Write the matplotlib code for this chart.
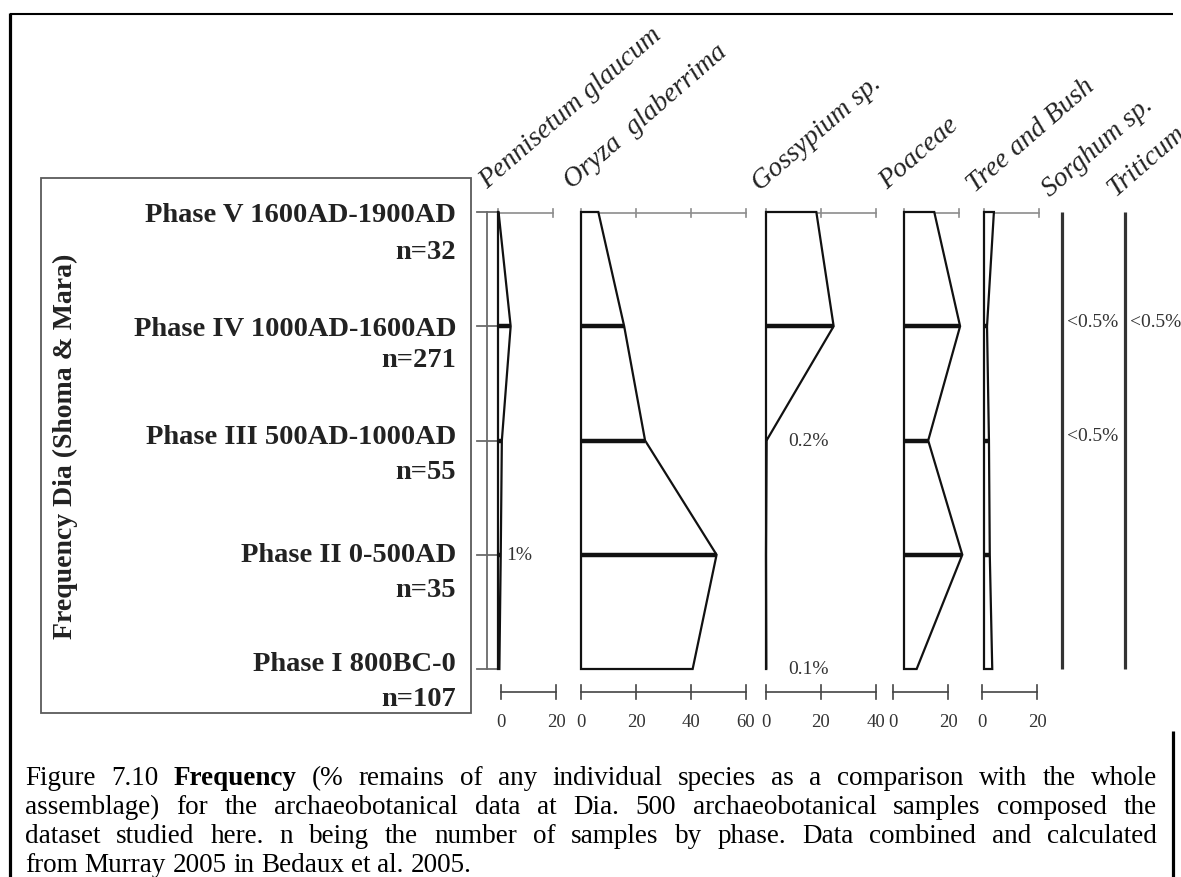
import matplotlib
matplotlib.use("Agg")
import matplotlib.pyplot as plt
import matplotlib.transforms as mtransforms
from matplotlib.patches import Polygon, Rectangle

# ---------------------------------------------------------------- data
phases = ["Phase V 1600AD-1900AD", "Phase IV 1000AD-1600AD",
          "Phase III 500AD-1000AD", "Phase II 0-500AD", "Phase I 800BC-0"]
sample_counts = [32, 271, 55, 35, 107]

taxa = ["Pennisetum glaucum", "Oryza  glaberrima", "Gossypium sp.",
        "Poaceae", "Tree and Bush", "Sorghum sp.", "Triticum"]

# frequency (% of assemblage), phases ordered V -> I
pennisetum = [0.2, 4.6, 1.4, 1.0, 0.5]
oryza = [6.3, 15.7, 23.3, 49.3, 40.6]
gossypium = [18.3, 24.6, 0.2, 0.0, 0.1]
poaceae = [11.0, 20.4, 8.8, 21.2, 4.6]
tree_bush = [3.6, 1.1, 1.8, 2.1, 3.0]

scale_max = [20, 60, 40, 20, 20]
scale_ticks = [[0, 20], [0, 20, 40, 60], [0, 20, 40], [0, 20], [0, 20]]

# trace taxa: phases where "<0.5%" is recorded
sorghum_trace = [1, 2]
triticum_trace = [1]
trace_text = "<0.5%"

caption_lines = [
    [("Figure", 0), ("7.10", 0), ("Frequency", 1), ("(%", 0), ("remains", 0), ("of", 0),
     ("any", 0), ("individual", 0), ("species", 0), ("as", 0), ("a", 0), ("comparison", 0),
     ("with", 0), ("the", 0), ("whole", 0)],
    [("assemblage)", 0), ("for", 0), ("the", 0), ("archaeobotanical", 0), ("data", 0),
     ("at", 0), ("Dia.", 0), ("500", 0), ("archaeobotanical", 0), ("samples", 0),
     ("composed", 0), ("the", 0)],
    [("dataset", 0), ("studied", 0), ("here.", 0), ("n", 0), ("being", 0), ("the", 0),
     ("number", 0), ("of", 0), ("samples", 0), ("by", 0), ("phase.", 0), ("Data", 0),
     ("combined", 0), ("and", 0), ("calculated", 0)],
    [("from", 0), ("Murray", 0), ("2005", 0), ("in", 0), ("Bedaux", 0), ("et", 0),
     ("al.", 0), ("2005.", 0)],
]

# ---------------------------------------------------------------- layout
W_PX, H_PX, DPI = 1181, 878, 100
SERIF = ["Liberation Serif", "DejaVu Serif"]
PX_PER_PCT = 2.75
Y_TOP, Y_BOT = 213, 670
panel_x0 = [498, 581, 766, 904, 984]
bottom_shift = [3, 0, 0, -11, -2]
trace_x0 = [1062, 1125]
header_anchor = [(487, 189), (572, 189), (760, 191), (887, 190),
                 (975, 193), (1050, 197), (1115, 197)]
phase_label_y = [213, 327, 435, 553, 662]
count_label_y = [250, 358, 470, 588, 697]

fig = plt.figure(figsize=(W_PX / DPI, H_PX / DPI), dpi=DPI)
fig.patch.set_facecolor("white")

# background axes in pixel units (y downwards)
bg = fig.add_axes([0, 0, 1, 1])
bg.set_xlim(0, W_PX)
bg.set_ylim(H_PX, 0)
bg.axis("off")

# page frame
bg.plot([10, 1173], [15, 15], color="black", lw=1.5, solid_capstyle="butt")
bg.plot([10, 10], [14, H_PX], color="black", lw=2.3, solid_capstyle="butt")
bg.plot([1173, 1173], [732, H_PX], color="black", lw=2.3, solid_capstyle="butt")

# phase label box
bg.add_patch(Rectangle((41, 179), 430, 535, fill=False, ec="#5a5a5a", lw=1.3))
bg.text(65, 446, "Frequency Dia (Shoma & Mara)", rotation=90, ha="center",
        va="center", fontsize=20, fontweight="bold", family=SERIF, color="#222")
for lab, n, yp, yn in zip(phases, sample_counts, phase_label_y, count_label_y):
    bg.text(456, yp + 9, lab, ha="right", va="baseline", fontsize=20.5,
            fontweight="bold", family=SERIF, color="#222")
    bg.text(456, yn + 9, f"n={n}", ha="right", va="baseline", fontsize=20.5,
            fontweight="bold", family=SERIF, color="#222")


def panel_axes(x0, span):
    ax = fig.add_axes([x0 / W_PX, 1 - Y_BOT / H_PX,
                       span * PX_PER_PCT / W_PX, (Y_BOT - Y_TOP) / H_PX])
    ax.set_xlim(0, span)
    ax.set_ylim(len(phases) - 1, 0)
    ax.axis("off")
    ax.patch.set_alpha(0)
    return ax


series = [pennisetum, oryza, gossypium, poaceae, tree_bush]
axes = []
for vals, x0, smax, ticks, shift in zip(series, panel_x0, scale_max,
                                         scale_ticks, bottom_shift):
    ax = panel_axes(x0, smax * 1.1)
    axes.append(ax)
    px_y = mtransforms.blended_transform_factory(ax.transData, bg.transData)
    # grey scale along the top
    ax.plot([0, smax], [214, 214], transform=px_y, color="#8c8c8c", lw=1.2,
            clip_on=False, zorder=1)
    for t in ticks:
        ax.plot([t, t], [210, 218], transform=px_y, color="#8c8c8c", lw=1.2,
                clip_on=False, zorder=1)
    # frequency curve
    idx = list(range(len(vals)))
    pts = [(0, idx[0])] + list(zip(vals, idx)) + [(0, idx[-1])]
    ax.add_patch(Polygon(pts, closed=True, fc="white", ec="#111", lw=1.6,
                         joinstyle="miter", clip_on=False, zorder=2))
    for i in idx[1:-1]:
        ax.plot([0, vals[i]], [i, i], color="#111", lw=3.2,
                solid_capstyle="butt", clip_on=False, zorder=3)
    # scale bar below
    bot = px_y + mtransforms.ScaledTranslation(shift / DPI, 0, fig.dpi_scale_trans)
    ax.plot([0, smax], [693, 693], transform=bot, color="#444", lw=1.2, clip_on=False)
    for t in ticks:
        ax.plot([t, t], [686, 700], transform=bot, color="#444", lw=1.2, clip_on=False)
        ax.text(t, 723, f"{t}", transform=bot, ha="center", va="center",
                fontsize=13.5, family=SERIF, color="#333")

# value notes on the near-zero curves
note_kw = dict(fontsize=14, family=SERIF, color="#333", va="center", ha="left")
axes[0].text(3.0, 3, f"{pennisetum[3]:g}%", **note_kw)
axes[2].text(8.0, 2, f"{gossypium[2]:g}%", **note_kw)
axes[2].text(8.0, 4, f"{gossypium[4]:g}%", **note_kw)

# trace taxa: a single line with "<0.5%" notes
for x0, trace in zip(trace_x0, [sorghum_trace, triticum_trace]):
    ax = panel_axes(x0, 20)
    ax.plot([0, 0], [0, len(phases) - 1], color="#333", lw=2.3,
            solid_capstyle="butt", clip_on=False)
    for i in trace:
        ax.text(1.8, i - 0.04, trace_text, **note_kw)

# phase ruler
ruler = mtransforms.blended_transform_factory(bg.transData, axes[0].transData)
bg.plot([487, 487], [0, len(phases) - 1], transform=ruler, color="#6a6a6a", lw=1.3)
for i in range(len(phases)):
    bg.plot([477, 497], [i, i], transform=ruler, color="#6a6a6a", lw=1.3)

# rotated taxon headers
for name, (hx, hy) in zip(taxa, header_anchor):
    bg.text(hx, hy, name, rotation=41, rotation_mode="anchor", ha="left",
            va="baseline", fontsize=20, style="italic", family=SERIF, color="#222")

# justified caption
renderer = fig.canvas.get_renderer()
CAP_SIZE = 19.5
cap_base = [785, 814, 843, 872]
X_LEFT, X_RIGHT = 25, 1157
space_px = CAP_SIZE * DPI / 72 * 0.25
for k, (tokens, yb) in enumerate(zip(caption_lines, cap_base)):
    objs, widths = [], []
    for word, bold in tokens:
        t = bg.text(0, yb, word, fontsize=CAP_SIZE, family=SERIF, color="black",
                    fontweight="bold" if bold else "normal", ha="left", va="baseline")
        widths.append(t.get_window_extent(renderer).width)
        objs.append(t)
    if k < len(caption_lines) - 1:
        gap = (X_RIGHT - X_LEFT - sum(widths)) / (len(tokens) - 1)
    else:
        gap = space_px
    x = X_LEFT
    for t, w in zip(objs, widths):
        t.set_x(x)
        x += w + gap

fig.savefig("out.png", dpi=DPI)
